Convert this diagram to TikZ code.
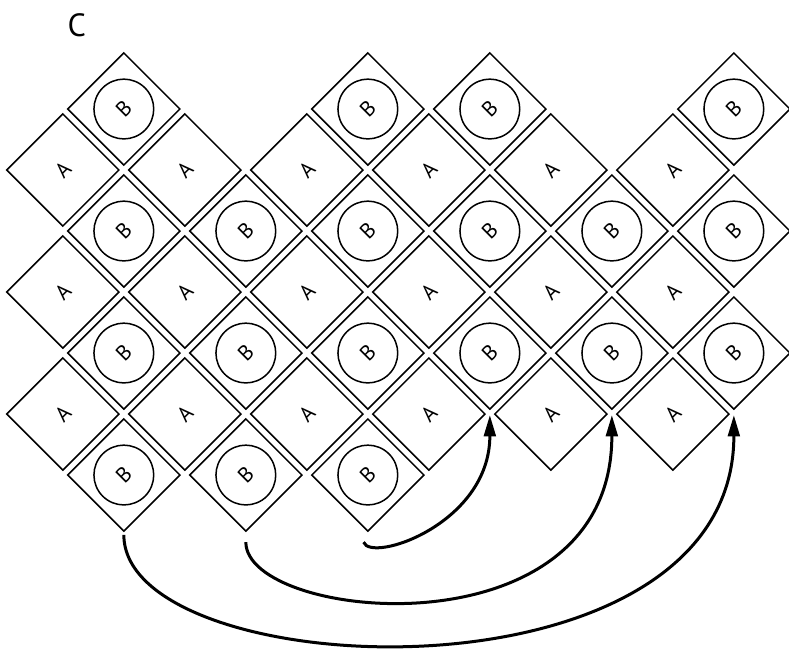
\documentclass[tikz,border=0pt]{standalone}
\usepackage{fontspec}
\setmainfont{PT Sans}
\usetikzlibrary{arrows.meta}

\begin{document}
\begin{tikzpicture}[
    tile/.style={draw, line width=0.7pt, rotate=45, minimum size=1.3cm, inner sep=0pt,
      font=\fontsize{10}{11}\selectfont},
    bcell/.style={tile, path picture={\draw[line width=0.7pt]
      (path picture bounding box.center) circle[radius=0.49cm];}},
    flow/.style={line width=1.4pt, -{Triangle[length=10pt,width=5.5pt]}}
  ]
    \useasboundingbox (-1.03, 1.787) rectangle (11.904, -8.902);
    \node (title) at (0.23, 1.38) {\fontsize{15}{17}\selectfont C};
    % row 0
    \node[bcell] (b1-0) at (1, 0) {B};
    \node[bcell] (b5-0) at (5, 0) {B};
    \node[bcell] (b7-0) at (7, 0) {B};
    \node[bcell] (b11-0) at (11, 0) {B};
    % row 1
    \node[tile] (a0-1) at (0, -1) {A};
    \node[tile] (a2-1) at (2, -1) {A};
    \node[tile] (a4-1) at (4, -1) {A};
    \node[tile] (a6-1) at (6, -1) {A};
    \node[tile] (a8-1) at (8, -1) {A};
    \node[tile] (a10-1) at (10, -1) {A};
    % row 2
    \node[bcell] (b1-2) at (1, -2) {B};
    \node[bcell] (b3-2) at (3, -2) {B};
    \node[bcell] (b5-2) at (5, -2) {B};
    \node[bcell] (b7-2) at (7, -2) {B};
    \node[bcell] (b9-2) at (9, -2) {B};
    \node[bcell] (b11-2) at (11, -2) {B};
    % row 3
    \node[tile] (a0-3) at (0, -3) {A};
    \node[tile] (a2-3) at (2, -3) {A};
    \node[tile] (a4-3) at (4, -3) {A};
    \node[tile] (a6-3) at (6, -3) {A};
    \node[tile] (a8-3) at (8, -3) {A};
    \node[tile] (a10-3) at (10, -3) {A};
    % row 4
    \node[bcell] (b1-4) at (1, -4) {B};
    \node[bcell] (b3-4) at (3, -4) {B};
    \node[bcell] (b5-4) at (5, -4) {B};
    \node[bcell] (b7-4) at (7, -4) {B};
    \node[bcell] (b9-4) at (9, -4) {B};
    \node[bcell] (b11-4) at (11, -4) {B};
    % row 5
    \node[tile] (a0-5) at (0, -5) {A};
    \node[tile] (a2-5) at (2, -5) {A};
    \node[tile] (a4-5) at (4, -5) {A};
    \node[tile] (a6-5) at (6, -5) {A};
    \node[tile] (a8-5) at (8, -5) {A};
    \node[tile] (a10-5) at (10, -5) {A};
    % row 6
    \node[bcell] (b1-6) at (1, -6) {B};
    \node[bcell] (b3-6) at (3, -6) {B};
    \node[bcell] (b5-6) at (5, -6) {B};
    % moves
    \coordinate (s1) at (4.93, -7.1);
    \coordinate (s2) at (3, -7.1);
    \coordinate (s3) at (1, -6.98);
    \draw[flow] (s1) .. controls (5.05, -7.45) and (7, -6.8) .. ([yshift=-0.08cm]b7-4.south west);
    \draw[flow] (s2) .. controls (3, -8.4) and (9, -9) .. ([yshift=-0.08cm]b9-4.south west);
    \draw[flow] (s3) .. controls (1, -9.45) and (11, -9.9) .. ([yshift=-0.08cm]b11-4.south west);
  \end{tikzpicture}
\end{document}
